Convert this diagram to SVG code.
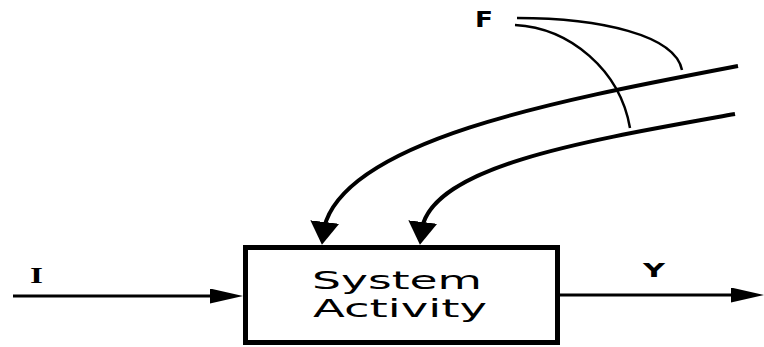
<svg xmlns="http://www.w3.org/2000/svg" width="764" height="347" viewBox="0 0 764 347">
  <style>
    .wire { fill: none; stroke: #000; stroke-linecap: butt; }
    .flow { stroke-width: 4; }
    .io { stroke-width: 3; }
    .thin { stroke-width: 2.5; }
    .box { fill: #fff; stroke: #000; stroke-width: 5; }
    .label { font-family: "DejaVu Sans", "Liberation Sans", sans-serif; fill: #000; }
    .serif { font-family: "Liberation Serif", "DejaVu Serif", serif; font-weight: bold; fill: #000; }
  </style>
  <defs>
    <!-- heads of the incoming flows point almost straight down onto the box -->
    <marker id="headDown" markerUnits="userSpaceOnUse" markerWidth="24" markerHeight="30" refX="6" refY="14.5" orient="97">
      <path d="M0,0 L23,14.5 L0,29 z" fill="#000"/>
    </marker>
    <marker id="headSide" markerUnits="userSpaceOnUse" markerWidth="34" markerHeight="16" refX="8" refY="7.5" orient="auto">
      <path d="M0,0 L33,7.5 L0,15 z" fill="#000"/>
    </marker>
  </defs>

  <rect width="764" height="347" fill="#fff"/>

  <g id="connectors">
    <!-- input I into the activity box -->
    <path class="wire io" d="M13,296 L218,296" marker-end="url(#headSide)"/>
    <!-- output Y out of the activity box -->
    <path class="wire io" d="M560,295 L739,295" marker-end="url(#headSide)"/>
    <!-- two incoming disturbance flows -->
    <path class="wire flow" d="M738,66 C560,100 345,140 324,228" marker-end="url(#headDown)"/>
    <path class="wire flow" d="M735,114 C590,140 435,165 422,228" marker-end="url(#headDown)"/>
    <!-- F leader lines -->
    <path class="wire thin" d="M517,18 C600,18 675,35 682,70"/>
    <path class="wire thin" d="M515,25 C570,28 620,70 630,128"/>
  </g>

  <g id="system-activity">
    <rect class="box" x="245.5" y="247.5" width="312" height="95"/>
    <text class="label" x="312" y="289" font-size="24" textLength="170" lengthAdjust="spacingAndGlyphs">System</text>
    <text class="label" x="313" y="317" font-size="24" textLength="174" lengthAdjust="spacingAndGlyphs">Activity</text>
  </g>

  <g id="label-I">
    <text class="serif" x="30" y="283" font-size="23" textLength="13" lengthAdjust="spacingAndGlyphs">I</text>
  </g>
  <g id="label-Y">
    <text class="label" x="643" y="277" font-size="19" font-weight="bold" textLength="22" lengthAdjust="spacingAndGlyphs">Y</text>
  </g>
  <g id="label-F">
    <text class="label" x="475" y="27" font-size="20.5" font-weight="bold" textLength="18" lengthAdjust="spacingAndGlyphs">F</text>
  </g>
</svg>
